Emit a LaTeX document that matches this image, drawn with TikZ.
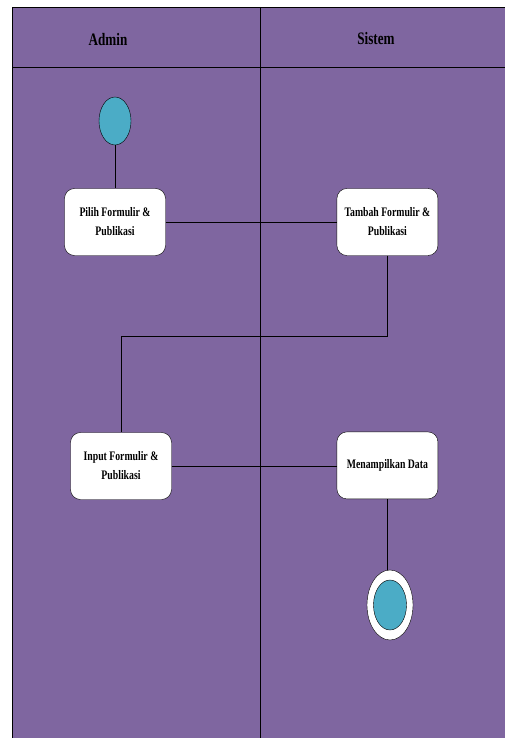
\documentclass[tikz,border=0pt]{standalone}
\usepackage{fontspec}
\setmainfont[FakeStretch=0.75]{Liberation Serif}
\usepackage{tikz}
\usetikzlibrary{shapes,arrows,positioning,calc}
\definecolor{ungu}{HTML}{7F66A0}
\definecolor{tosca}{HTML}{4BACC6}

\begin{document}
\begin{tikzpicture}[x=1pt,y=-1pt,
    aktivitas/.style={draw, rounded corners=10pt, fill=white, minimum width=101pt, minimum height=67pt, align=center, font=\fontsize{13}{19}\selectfont\bfseries},
    lajur/.style={font=\fontsize{17.5}{20}\selectfont\bfseries}]
            \useasboundingbox (0,0) rectangle (505,738);
            % swimlane
            \fill[ungu] (12,7) rectangle (505,738);
            \draw[line width=0.8pt] (12,738) -- (12,7) -- (505,7);
            \draw[line width=0.8pt] (12,67) -- (505,67);
            \draw[line width=0.8pt] (260,7) -- (260,738);
            \node[lajur] (admin) at (108,40) {Admin};
            \node[lajur] (sistem) at (376,39) {Sistem};

            \node[draw, ellipse, fill=tosca, minimum width=32pt, minimum height=48pt] (mulai) at (115,121) {};
            \node[aktivitas] (pilih) at (115,222) {Pilih Formulir \&\\Publikasi};
            \node[aktivitas, right=171pt of pilih] (tambah) {Tambah Formulir \&\\Publikasi};
            \node[aktivitas] (input) at (121,466) {Input Formulir \&\\Publikasi};
            \node[aktivitas, below=176pt of tambah] (tampil) {Menampilkan Data};
            \node[draw, ellipse, fill=white, minimum width=46pt, minimum height=70pt] (selesai) at (390,605) {};
            \node[draw, ellipse, fill=tosca, minimum width=33pt, minimum height=50pt] (selesaiDalam) at (selesai) {};
            \coordinate (belok) at ($(tambah.south)+(0,81)$);

            \draw[line width=0.8pt] (mulai) -- (pilih);
            \draw[line width=0.8pt] (pilih) -- (tambah);
            \draw[line width=0.8pt] (tambah.south) -- (belok) -| (input.north);
            \draw[line width=0.8pt] (input.east) -- (input.east -| tampil.west);
            \draw[line width=0.8pt] (tampil.south) -- (tampil.south |- selesai.north);
        \end{tikzpicture}
\end{document}
